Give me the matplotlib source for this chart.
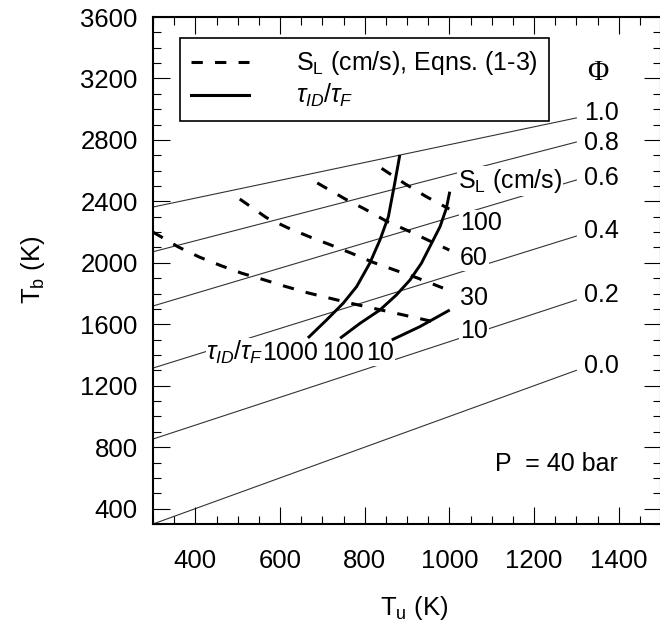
import matplotlib
matplotlib.use("Agg")
import matplotlib.pyplot as plt
from matplotlib.ticker import MultipleLocator
from matplotlib.lines import Line2D

# ----------------------------------------------------------------------
# Data
# ----------------------------------------------------------------------
# equivalence-ratio lines (straight, Tu = 300 .. 1300 K)
phi_values = ["0.0", "0.2", "0.4", "0.6", "0.8", "1.0"]
phi_tu = [300, 1300]
phi_tb_start = [300, 853, 1315, 1719, 2072, 2363]
phi_tb_end = [1300, 1758, 2174, 2539, 2786, 2943]
phi_label_tb = [1283, 1745, 2161, 2506, 2734, 2930]

# laminar flame speed curves (dashed)
sl_labels = ["10", "30", "60", "100"]
sl10_tu = [300, 360, 409, 461, 510, 564, 612, 665, 765, 860, 985]
sl10_tb = [2200, 2103, 2038, 1981, 1932, 1888, 1847, 1805, 1738, 1680, 1603]
sl30_tu = [505, 568, 619, 671, 720, 769, 820, 871, 923, 985]
sl30_tb = [2415, 2294, 2227, 2168, 2116, 2062, 2003, 1953, 1903, 1836]
sl60_tu = [688, 753, 803, 852, 903, 954, 1000]
sl60_tb = [2520, 2417, 2346, 2270, 2208, 2142, 2083]
sl100_tu = [840, 895, 946, 1000]
sl100_tb = [2615, 2515, 2430, 2350]
sl_label_tb = [1511, 1725, 1986, 2214]

# ignition delay / flame time ratio curves (solid)
tau_labels = ["1000", "100", "10"]
tau1000_tu = [666, 710, 749, 781, 812, 836, 856, 871, 883]
tau1000_tb = [1511, 1628, 1736, 1845, 1997, 2148, 2300, 2518, 2702]
tau100_tu = [742, 789, 836, 875, 907, 934, 958, 978, 993, 1001]
tau100_tb = [1509, 1606, 1693, 1791, 1888, 1997, 2127, 2235, 2355, 2463]
tau10_tu = [864, 930, 1001]
tau10_tb = [1498, 1584, 1693]
tau_label_tu = [624, 749, 837]

# ----------------------------------------------------------------------
# Style
# ----------------------------------------------------------------------
plt.rcParams["font.family"] = ["Liberation Sans", "DejaVu Sans"]
plt.rcParams["mathtext.fontset"] = "custom"
plt.rcParams["mathtext.rm"] = "Liberation Sans"
plt.rcParams["mathtext.it"] = "Liberation Sans:italic"

FS = 18
DASH = (0, (3.7, 4.0))
white_box = dict(facecolor="white", edgecolor="none", pad=0.5)

fig = plt.figure(figsize=(6.6, 6.34), dpi=100)
ax = fig.add_axes([153 / 660, 1 - 524 / 634, 508 / 660, 507 / 634])

# Phi lines
for tb0, tb1 in zip(phi_tb_start, phi_tb_end):
    ax.plot(phi_tu, [tb0, tb1], color="#333333", lw=0.8, zorder=1)
for lab, tb in zip(phi_values, phi_label_tb):
    ax.text(1318, tb, lab, fontsize=FS, ha="left", va="baseline")
ax.text(1350, 3190, "\u03a6", fontsize=21, family="Liberation Serif",
        ha="center", va="baseline")

# S_L curves
for tu, tb in [(sl10_tu, sl10_tb), (sl30_tu, sl30_tb),
               (sl60_tu, sl60_tb), (sl100_tu, sl100_tb)]:
    ax.plot(tu, tb, color="black", lw=2.2, linestyle=DASH, zorder=3)
for lab, tb in zip(sl_labels, sl_label_tb):
    ax.text(1025, tb, lab, fontsize=FS, ha="left", va="baseline",
            bbox=white_box, zorder=2)
ax.text(1020, 2487, r"S$_\mathrm{L}$ (cm/s)", fontsize=FS, ha="left",
        va="baseline", bbox=white_box, zorder=2)

# tau_ID / tau_F curves
for tu, tb in [(tau1000_tu, tau1000_tb), (tau100_tu, tau100_tb),
               (tau10_tu, tau10_tb)]:
    ax.plot(tu, tb, color="black", lw=2.1, solid_capstyle="butt", zorder=3)
for lab, tu in zip(tau_labels, tau_label_tu):
    ax.text(tu, 1367, lab, fontsize=FS, ha="center", va="baseline",
            bbox=white_box, zorder=2)
ax.text(494, 1367, r"$\tau_{ID}/\tau_{F}$", fontsize=FS, ha="center",
        va="baseline", bbox=white_box, zorder=2)

ax.text(1108, 645, "P  = 40 bar", fontsize=FS, ha="left", va="baseline")

# legend
handles = [Line2D([], [], color="black", lw=2.2, linestyle=DASH),
           Line2D([], [], color="black", lw=2.2)]
labels = [r"S$_\mathrm{L}$ (cm/s), Eqns. (1-3)", r"$\tau_{ID}/\tau_{F}$"]
leg = ax.legend(handles, labels, loc="upper left",
                bbox_to_anchor=(27 / 508, (524 - 38) / 507),
                borderaxespad=0, fancybox=False, edgecolor="black",
                fontsize=FS, handlelength=2.3, handletextpad=1.9,
                borderpad=0.45, labelspacing=0.2, framealpha=1)
leg.get_frame().set_linewidth(1.2)

# axes
ax.set_xlim(300, 1500)
ax.set_ylim(300, 3600)
ax.xaxis.set_major_locator(MultipleLocator(200))
ax.xaxis.set_minor_locator(MultipleLocator(50))
ax.yaxis.set_major_locator(MultipleLocator(400))
ax.yaxis.set_minor_locator(MultipleLocator(100))
ax.tick_params(which="both", direction="in", top=True, right=True,
               width=0.8, labelsize=18.5)
ax.tick_params(which="major", length=12)
ax.tick_params(which="minor", length=6)
ax.tick_params(axis="x", pad=18)
ax.tick_params(axis="y", pad=11)
for sp in ax.spines.values():
    sp.set_linewidth(1.5)

fig.text(414 / 660, 1 - 615 / 634, r"T$_\mathrm{u}$ (K)", fontsize=18.5,
         ha="center", va="baseline")
fig.text(40 / 660, 1 - 270 / 634, r"T$_\mathrm{b}$ (K)", fontsize=18.5,
         ha="center", va="baseline", rotation=90, rotation_mode="anchor")

fig.savefig("out.png", dpi=100)
